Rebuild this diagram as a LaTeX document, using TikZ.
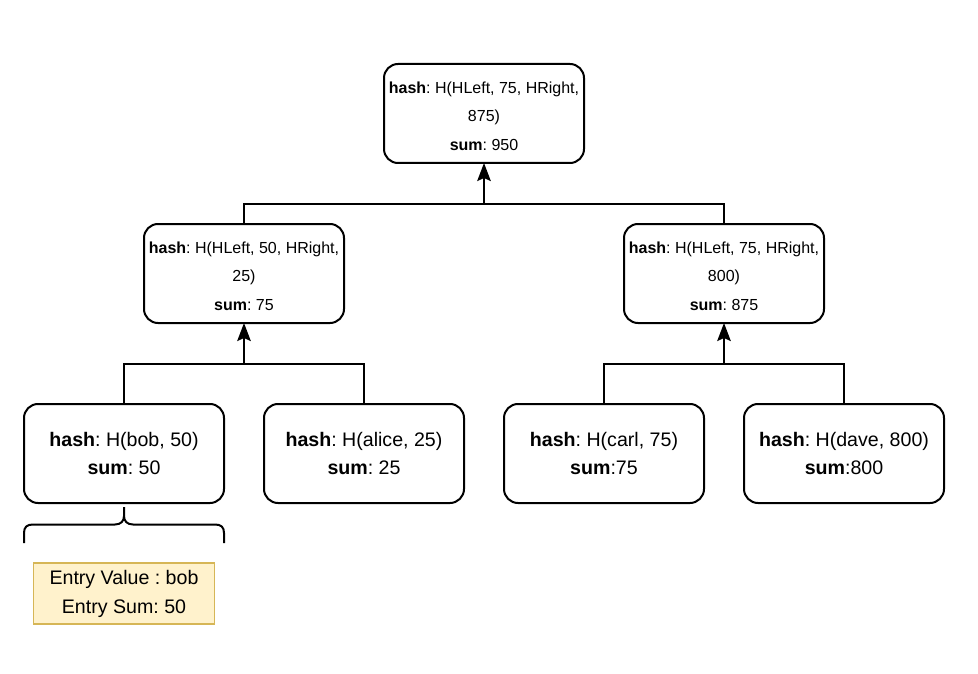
\documentclass[tikz,border=0pt]{standalone}
\usepackage{fontspec}
\setmainfont{Liberation Sans}
\usetikzlibrary{arrows.meta}
\frenchspacing
\definecolor{noteFill}{HTML}{FFF2CC}
\definecolor{noteDraw}{HTML}{D6B656}
\newcommand{\topstrut}{\rule{0pt}{17pt}}
\begin{document}
\begin{tikzpicture}[x=1pt,y=-1pt,
  box/.style={draw=black, line width=2pt, rounded corners=14pt, fill=white,
    minimum width=200pt, minimum height=99pt, inner sep=0pt, outer sep=0pt, align=center},
  inner/.style={box, font=\fontsize{16}{28.8}\selectfont\frenchspacing},
  leaf/.style={box, font=\fontsize{19.6}{28.7}\selectfont\frenchspacing},
  note/.style={draw=noteDraw, fill=noteFill, line width=1.5pt, minimum width=181pt,
    minimum height=61pt, inner sep=0pt, align=center, font=\fontsize{19.6}{29}\selectfont\frenchspacing},
  conn/.style={draw=black, line width=2pt},
  arr/.style={conn, -{Stealth[length=18pt,width=13.5pt,inset=3pt]}}]
\useasboundingbox (0,0) rectangle (978,674);
% nodes
\node[inner] (top) at (484,113.5) {\topstrut\textbf{hash}: H(HLeft, 75, HRight,\\875)\\\textbf{sum}: 950};
\node[inner] (ml) at (244,273.5) {\topstrut\textbf{hash}: H(HLeft, 50, HRight,\\25)\\\textbf{sum}: 75};
\node[inner] (mr) at (724,273.5) {\topstrut\textbf{hash}: H(HLeft, 75, HRight,\\800)\\\textbf{sum}: 875};
\node[leaf] (l1) at (124,453.5) {\textbf{hash}: H(bob, 50)\\\textbf{sum}: 50};
\node[leaf] (l2) at (364,453.5) {\textbf{hash}: H(alice, 25)\\\textbf{sum}: 25};
\node[leaf] (l3) at (604,453.5) {\textbf{hash}: H(carl, 75)\\\textbf{sum}:75};
\node[leaf] (l4) at (844,453.5) {\textbf{hash}: H(dave, 800)\\\textbf{sum}:800};
\node[note] (entry) at (124,593.5) {Entry Value : bob\\Entry Sum: 50};
% junctions
\coordinate (jt) at (484,204);
\coordinate (jl) at (244,364);
\coordinate (jr) at (724,364);
% connectors
\draw[conn] (ml.north) |- (jt) -| (mr.north);
\draw[arr] (jt) -- (top.south);
\draw[conn] (l1.north) |- (jl) -| (l2.north);
\draw[arr] (jl) -- (ml.south);
\draw[conn] (l3.north) |- (jr) -| (l4.north);
\draw[arr] (jr) -- (mr.south);
% brace
\coordinate (bl) at (24,543);
\coordinate (br) at (224,543);
\coordinate (btip) at (124,507);
\draw[conn, line cap=butt] (bl) -- (24,533) .. controls (24,527) and (27,524.5) .. (33,524.5)
  -- (115,524.5) .. controls (121,524.5) and (124,521) .. (124,516) -- (btip);
\draw[conn, line cap=butt] (br) -- (224,533) .. controls (224,527) and (221,524.5) .. (215,524.5)
  -- (133,524.5) .. controls (127,524.5) and (124,521) .. (124,516);
\end{tikzpicture}
\end{document}
